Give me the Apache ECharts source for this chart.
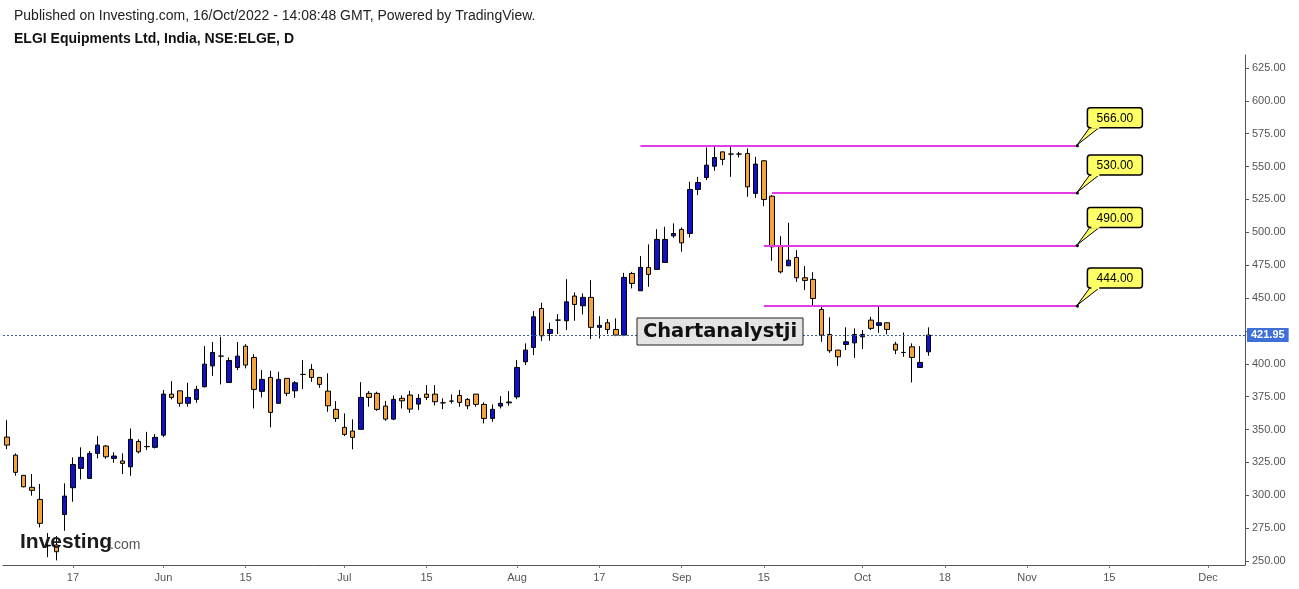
<!DOCTYPE html>
<html><head><meta charset="utf-8">
<script src="https://cdn.jsdelivr.net/npm/echarts@6/dist/echarts.min.js"></script>
<style>html,body{margin:0;padding:0;background:#fff}#c{width:1299px;height:589px}</style>
</head><body><div id="c"></div>
<script>
// Trading days (May 5 – Oct 14, 2022) followed by future weekdays shown on the time scale
const dates = [
'2022-05-05','2022-05-06','2022-05-09','2022-05-10','2022-05-11','2022-05-12','2022-05-13','2022-05-16','2022-05-17','2022-05-18',
'2022-05-19','2022-05-20','2022-05-23','2022-05-24','2022-05-25','2022-05-26','2022-05-27','2022-05-30','2022-05-31',
'2022-06-01','2022-06-02','2022-06-03','2022-06-06','2022-06-07','2022-06-08','2022-06-09','2022-06-10','2022-06-13','2022-06-14',
'2022-06-15','2022-06-16','2022-06-17','2022-06-20','2022-06-21','2022-06-22','2022-06-23','2022-06-24','2022-06-27','2022-06-28',
'2022-06-29','2022-06-30',
'2022-07-01','2022-07-04','2022-07-05','2022-07-06','2022-07-07','2022-07-08','2022-07-11','2022-07-12','2022-07-13','2022-07-14',
'2022-07-15','2022-07-18','2022-07-19','2022-07-20','2022-07-21','2022-07-22','2022-07-25','2022-07-26','2022-07-27','2022-07-28',
'2022-07-29',
'2022-08-01','2022-08-02','2022-08-03','2022-08-04','2022-08-05','2022-08-08','2022-08-10','2022-08-11','2022-08-12','2022-08-16',
'2022-08-17','2022-08-18','2022-08-19','2022-08-22','2022-08-23','2022-08-24','2022-08-25','2022-08-26','2022-08-29','2022-08-30',
'2022-09-01','2022-09-02','2022-09-05','2022-09-06','2022-09-07','2022-09-08','2022-09-09','2022-09-12','2022-09-13','2022-09-14',
'2022-09-15','2022-09-16','2022-09-19','2022-09-20','2022-09-21','2022-09-22','2022-09-23','2022-09-26','2022-09-27','2022-09-28',
'2022-09-29','2022-09-30',
'2022-10-03','2022-10-04','2022-10-06','2022-10-07','2022-10-10','2022-10-11','2022-10-12','2022-10-13','2022-10-14',
'2022-10-17','2022-10-18','2022-10-19','2022-10-20','2022-10-21','2022-10-24','2022-10-25','2022-10-26','2022-10-27','2022-10-28',
'2022-10-31',
'2022-11-01','2022-11-02','2022-11-03','2022-11-04','2022-11-07','2022-11-08','2022-11-09','2022-11-10','2022-11-11','2022-11-14',
'2022-11-15','2022-11-16','2022-11-17','2022-11-18','2022-11-21','2022-11-22','2022-11-23','2022-11-24','2022-11-25','2022-11-28',
'2022-11-29','2022-11-30',
'2022-12-01','2022-12-02','2022-12-05','2022-12-06','2022-12-07'
];

const opens = [
344.3,330.6,315.2,306.1,296.9,261.5,262.2,285.5,305.8,320.5,
312.9,331.9,337.5,328.1,326.1,321.7,341.0,337.2,336.5,345.8,
377.0,379.5,370.0,373.0,382.6,398.5,405.9,385.9,397.3,413.5,
404.9,379.1,389.7,370.0,389.0,379.5,392.0,395.8,389.7,379.3,
365.4,351.7,348.9,350.2,377.6,377.6,367.9,358.0,373.8,376.3,
369.4,377.0,377.0,370.4,371.7,376.0,373.0,377.0,369.2,358.5,
367.9,370.4,374.9,401.6,412.5,442.2,423.2,433.3,432.8,451.6,
444.2,450.6,427.8,431.3,426.2,421.9,468.8,455.6,473.4,471.9,
477.2,497.4,502.3,499.2,532.7,541.8,550.4,561.3,559.6,559.6,
560.1,529.7,554.5,527.6,489.8,474.6,481.0,465.5,464.3,441.4,
422.4,410.5,414.8,416.0,420.6,433.3,429.3,431.3,415.0,408.7,
413.0,397.3,409.2
];
const closes = [
338.2,317.5,306.5,303.8,278.7,262.0,257.1,299.4,323.5,328.9,
331.9,338.2,329.3,329.9,324.3,342.6,333.1,337.0,344.1,377.0,
374.5,370.0,374.5,380.6,399.8,408.7,405.9,402.6,405.9,399.1,
380.6,388.2,363.1,388.2,377.6,385.6,392.0,389.7,384.4,368.1,
358.5,346.4,344.1,374.5,374.5,365.4,358.0,373.0,371.9,365.6,
373.8,374.5,371.2,370.4,371.7,370.7,368.1,369.2,358.5,365.4,
370.0,371.0,397.3,410.5,435.8,421.4,426.2,433.3,447.2,445.2,
450.6,427.8,429.3,426.2,421.9,465.8,461.2,473.4,468.1,494.7,
494.7,499.2,492.1,532.7,538.0,551.2,557.0,555.5,559.6,559.6,
534.7,552.0,525.1,489.1,470.0,478.9,465.5,463.5,449.8,421.9,
410.0,405.4,416.8,422.4,422.4,427.0,431.3,426.2,410.5,408.7,
404.9,401.1,421.95
];
const lows = [
335.2,314.9,306.1,299.7,275.6,253.0,250.5,273.0,295.1,312.1,
312.5,328.1,327.8,324.8,316.2,314.9,331.9,334.4,335.7,344.3,
373.0,367.4,367.4,370.4,382.1,390.9,384.4,385.9,395.3,396.6,
366.1,374.5,351.7,370.0,375.5,374.2,380.8,386.4,381.8,363.6,
356.0,345.1,335.0,350.2,367.4,364.3,356.7,357.2,366.1,362.8,
364.8,372.5,368.4,365.6,369.9,367.4,365.6,367.4,354.7,356.0,
366.1,368.1,373.2,399.1,406.7,417.3,417.6,422.7,425.7,432.8,
437.6,418.9,419.4,422.7,421.1,421.1,457.4,455.6,458.6,471.9,
477.2,495.9,485.3,496.2,528.4,539.8,546.9,551.2,542.3,557.0,
527.1,526.3,520.0,478.4,468.8,474.6,462.4,456.1,444.7,416.8,
408.4,398.5,410.5,404.6,411.3,425.7,423.6,422.4,407.4,405.4,
385.9,397.3,406.2
];
const highs = [
357.2,331.9,315.5,316.2,308.6,271.3,269.0,309.1,328.9,336.5,
333.7,345.1,338.2,332.7,331.9,350.9,342.6,348.3,346.6,380.1,
386.9,379.5,385.6,383.3,413.5,416.6,420.6,404.9,416.6,415.0,
407.4,395.3,394.7,394.0,389.0,386.9,402.9,399.8,389.7,392.8,
371.7,362.3,357.8,386.1,379.3,378.8,371.7,376.0,376.0,379.5,
377.0,383.9,383.9,373.8,376.8,380.1,374.0,377.0,370.7,369.2,
375.5,379.3,402.9,415.6,440.2,446.5,431.3,437.9,464.5,454.4,
453.6,463.7,436.3,434.1,434.6,469.3,470.0,482.0,490.9,502.5,
504.3,506.9,503.8,538.5,542.3,564.7,566.4,561.3,565.1,561.3,
563.9,557.5,555.0,528.4,497.2,507.3,486.5,474.4,469.8,444.2,
435.4,410.5,427.8,427.0,425.7,435.8,443.4,431.3,416.8,423.9,
415.6,413.5,427.8
];

const tickDates  = ['2022-05-17','2022-06-01','2022-06-15','2022-07-01','2022-07-15','2022-08-01','2022-08-17','2022-09-01','2022-09-15','2022-10-03','2022-10-18','2022-11-01','2022-11-15','2022-12-01'];
const tickLabels = ['17','Jun','15','Jul','15','Aug','17','Sep','15','Oct','18','Nov','15','Dec'];

const levelValues = [566, 530, 490, 444];
const levelStarts = ['2022-08-24', '2022-09-16', '2022-09-15', '2022-09-15'];
const levelEnd = '2022-11-09';
const lastPrice = 421.95;

const candleData = opens.map((o, i) => [o, closes[i], lows[i], highs[i]]);
const tickMap = {};
tickDates.forEach((d, i) => { tickMap[d] = tickLabels[i]; });

const FONT = '"Liberation Sans", Arial, sans-serif';
const chart = echarts.init(document.getElementById('c'), null, {renderer: 'canvas'});

const markData = [{
  yAxis: lastPrice,
  lineStyle: {type: [2, 2], color: '#3d5f93', width: 1},
  label: {show: true, position: 'end', formatter: lastPrice.toFixed(2), color: '#fff',
    backgroundColor: '#3f6fd8', padding: [2, 4, 1, 4], fontSize: 11, fontFamily: FONT, fontWeight: 'bold', distance: 2}
}];
levelValues.forEach((v, i) => {
  markData.push([
    {coord: [levelStarts[i], v], lineStyle: {type: 'solid', color: '#e23ce2', width: 2}, label: {show: false}},
    {coord: [levelEnd, v]}
  ]);
});

chart.setOption({
  animation: false,
  backgroundColor: '#fff',
  title: [
    {text: 'Published on Investing.com, 16/Oct/2022 - 14:08:48 GMT, Powered by TradingView.', left: 9, top: 4,
     textStyle: {fontSize: 14, fontWeight: 'normal', color: '#222', fontFamily: FONT}},
    {text: 'ELGI Equipments Ltd, India, NSE:ELGE, D', left: 9, top: 27,
     textStyle: {fontSize: 14, fontWeight: 'bold', color: '#111', fontFamily: FONT}}
  ],
  grid: [
    {left: 3, right: 54, top: 55, bottom: 24},
    {left: 3, right: 54, top: 68, bottom: 28}
  ],
  xAxis: [
    {type: 'category', data: dates, gridIndex: 0, boundaryGap: true,
     axisLine: {show: true, lineStyle: {color: '#555', width: 1}},
     axisTick: {show: true, alignWithLabel: true, interval: (i, v) => v in tickMap, length: 3, lineStyle: {color: '#777'}},
     axisLabel: {interval: (i, v) => v in tickMap, formatter: v => tickMap[v] || '', color: '#555', fontSize: 11, fontFamily: FONT, margin: 7},
     splitLine: {show: false}},
    {type: 'category', data: dates, gridIndex: 1, show: false}
  ],
  yAxis: [
    {type: 'value', gridIndex: 0, position: 'right', min: 247, max: 635, scale: true,
     axisLine: {show: true, lineStyle: {color: '#555', width: 1}},
     axisTick: {show: false}, axisLabel: {show: false}, splitLine: {show: false}},
    {type: 'value', gridIndex: 1, position: 'right', min: 250, max: 625, interval: 25, scale: true,
     axisLine: {show: false},
     axisTick: {show: true, length: 4, lineStyle: {color: '#555'}},
     // the 425 label sits under the last-price tag, so it is not shown
     axisLabel: {formatter: v => (Math.abs(v - lastPrice) < 8 ? '' : v.toFixed(2)), color: '#555', fontSize: 11, fontFamily: FONT, margin: 7},
     splitLine: {show: false}}
  ],
  series: [{
    type: 'candlestick', name: 'ELGE', xAxisIndex: 0, yAxisIndex: 0,
    data: candleData, barWidth: 5,
    itemStyle: {color: '#0f12c8', color0: '#f2a33a', borderColor: '#000', borderColor0: '#000', borderColorDoji: '#000', borderWidth: 1},
    markLine: {silent: true, symbol: ['none', 'none'], animation: false, data: markData}
  }]
});

// Annotations anchored to data coordinates
const g = [];
levelValues.forEach((v) => {
  const p = chart.convertToPixel({xAxisIndex: 0, yAxisIndex: 0}, [levelEnd, v]);
  const ax = p[0], ay = p[1] - 1;
  const bx = ax + 11, by = ay - 37, bw = 55, bh = 20;
  g.push({type: 'polygon', shape: {points: [[bx + 3, by + bh - 1], [bx + 13, by + bh - 1], [ax + 1, ay]]},
          style: {fill: '#ffff66', stroke: '#000', lineWidth: 1}, z: 50});
  g.push({type: 'rect', shape: {x: bx, y: by, width: bw, height: bh, r: 3},
          style: {fill: '#ffff66', stroke: '#000', lineWidth: 1.5}, z: 51});
  g.push({type: 'rect', shape: {x: bx + 4, y: by + bh - 2, width: 8, height: 3},
          style: {fill: '#ffff66'}, z: 52});
  g.push({type: 'text', x: bx + bw / 2, y: by + bh / 2 + 1,
          style: {text: v.toFixed(2), fill: '#000', font: '12px ' + FONT, align: 'center', verticalAlign: 'middle'}, z: 53});
  g.push({type: 'circle', shape: {cx: ax + 1, cy: ay + 1, r: 1.6}, style: {fill: '#000'}, z: 54});
});
// watermark box
g.push({type: 'rect', shape: {x: 637, y: 318, width: 166, height: 27}, style: {fill: '#e4e4e4', stroke: '#222', lineWidth: 1}, z: 60});
g.push({type: 'text', x: 720, y: 332, style: {text: 'Chartanalystji', fill: '#111', font: 'bold 19.5px "DejaVu Sans", Verdana, sans-serif', align: 'center', verticalAlign: 'middle'}, z: 61});
// Investing.com logo
g.push({type: 'text', x: 20, y: 542, style: {text: 'Investing', fill: '#1b1b1b', font: 'bold 21px ' + FONT, align: 'left', verticalAlign: 'middle'}, z: 60});
g.push({type: 'text', x: 110, y: 545, style: {text: '.com', fill: '#555', font: '14px ' + FONT, align: 'left', verticalAlign: 'middle'}, z: 60});
// clip area below the x axis on the price scale
g.push({type: 'rect', shape: {x: 1246, y: 565, width: 53, height: 24}, style: {fill: '#fff'}, z: 100});
chart.setOption({graphic: g});
</script>
</body></html>
